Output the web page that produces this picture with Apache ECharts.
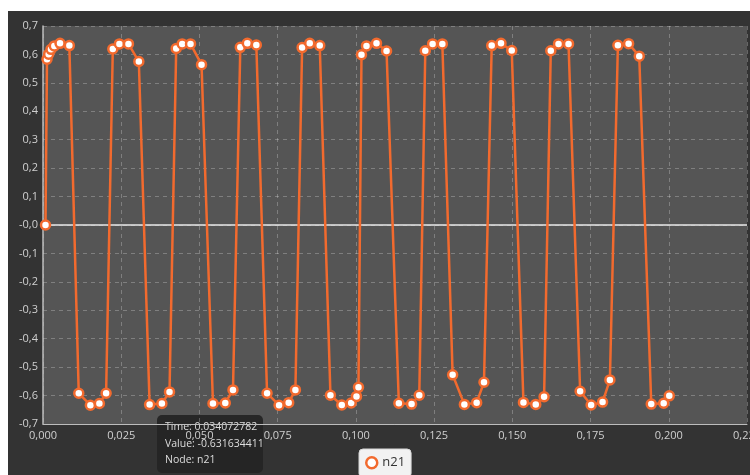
<!DOCTYPE html>
<html>
<head>
<meta charset="utf-8">
<script src="https://cdn.jsdelivr.net/npm/echarts@6/dist/echarts.min.js"></script>
<style>
html,body{margin:0;padding:0;background:#fff;}
#c{width:750px;height:475px;}
</style>
</head>
<body>
<div id="c"></div>
<script>
var seriesName = 'n21';
var times = [
  0.0008, 0.00128, 0.00182, 0.00256, 0.00362, 0.00544, 0.00842,
  0.01143, 0.01514, 0.01802, 0.02017,
  0.02231, 0.02442, 0.02731, 0.03063,
  0.034072782, 0.03800, 0.04043,
  0.04257, 0.04449, 0.04715, 0.05067,
  0.05432, 0.05826, 0.06072,
  0.06306, 0.06530, 0.06818,
  0.07161, 0.07545, 0.07852, 0.08067,
  0.08281, 0.08525, 0.08845,
  0.09187, 0.09549, 0.09849, 0.10019, 0.10083,
  0.10179, 0.10339, 0.10659, 0.10980,
  0.11373, 0.11780, 0.12026,
  0.12218, 0.12452, 0.12763,
  0.13092, 0.13467, 0.13860, 0.14094,
  0.14341, 0.14638, 0.14981,
  0.15355, 0.15749, 0.16015,
  0.16229, 0.16476, 0.16796,
  0.17167, 0.17519, 0.17884, 0.18118,
  0.18374, 0.18716, 0.19056,
  0.19440, 0.19837, 0.20016
];
var values = [
  0.0, 0.583, 0.601, 0.618, 0.630, 0.639, 0.631,
  -0.592, -0.634, -0.628, -0.592,
  0.619, 0.637, 0.637, 0.575,
  -0.631634411, -0.628, -0.587,
  0.621, 0.637, 0.637, 0.564,
  -0.628, -0.626, -0.580,
  0.625, 0.639, 0.633,
  -0.592, -0.634, -0.625, -0.580,
  0.624, 0.639, 0.631,
  -0.599, -0.633, -0.626, -0.603, -0.571,
  0.599, 0.630, 0.639, 0.612,
  -0.627, -0.630, -0.599,
  0.613, 0.637, 0.637,
  -0.527, -0.631, -0.625, -0.553,
  0.631, 0.639, 0.614,
  -0.624, -0.631, -0.604,
  0.613, 0.637, 0.637,
  -0.585, -0.633, -0.623, -0.545,
  0.632, 0.638, 0.594,
  -0.630, -0.627, -0.601
];
var tooltipLines = ['Time: 0.034072782', 'Value: -0.631634411', 'Node: n21'];

var data = times.map(function(t, i){ return [t, values[i]]; });
var orange = '#f26a2e';

var chart = echarts.init(document.getElementById('c'), null, {renderer:'canvas'});
chart.setOption({
  backgroundColor: '#ffffff',
  animation: false,
  textStyle: {fontFamily: 'Open Sans'},
  graphic: [
    {type:'rect', z:-10, silent:true, shape:{x:8, y:11, width:742, height:464}, style:{fill:'#333333'}},
    {type:'group', left:157, top:415, z:100, children:[
      {type:'rect', shape:{x:0, y:0, width:106, height:58, r:5}, style:{fill:'rgba(36,36,36,0.94)'}},
      {type:'text', x:8, y:7, style:{text:tooltipLines[0], fill:'#dddddd', font:'10.5px "Open Sans"'}},
      {type:'text', x:8, y:24, style:{text:tooltipLines[1], fill:'#dddddd', font:'10.5px "Open Sans"'}},
      {type:'text', x:8, y:40, style:{text:tooltipLines[2], fill:'#dddddd', font:'10.5px "Open Sans"'}}
    ]}
  ],
  legend: {
    show: true,
    left: 359, top: 449,
    data: [seriesName],
    backgroundColor: '#f2f2f2',
    borderColor: '#d8d8d8', borderWidth: 1, borderRadius: 4,
    padding: [7, 6, 8, 6],
    itemWidth: 11, itemHeight: 11, itemGap: 4,
    icon: 'circle',
    itemStyle: {color:'#ffffff', borderColor: orange, borderWidth: 2.5},
    textStyle: {color:'#333333', fontSize:13, fontFamily:'Open Sans', padding:[0,0,0,0]}
  },
  grid: {
    left: 43, right: 3, top: 26, bottom: 51,
    outerBoundsMode: 'none',
    containLabel: false,
    show: true, backgroundColor: '#555555', borderWidth: 0
  },
  xAxis: {
    type: 'value', min: 0, max: 0.225, interval: 0.025,
    axisLine: {show:true, onZero:false, lineStyle:{color:'#bdbdbd', width:1}},
    axisTick: {show:false},
    axisLabel: {color:'#d0d0d0', fontSize:11, margin:6, showMaxLabel:true, hideOverlap:false,
      formatter: function(v){ return v.toFixed(3).replace('.', ','); }},
    splitLine: {show:true, lineStyle:{color:'rgba(255,255,255,0.25)', type:[4,4], width:1}}
  },
  yAxis: {
    type: 'value', min: -0.7, max: 0.7, interval: 0.1,
    axisLine: {show:true, onZero:false, lineStyle:{color:'#bdbdbd', width:1.5}},
    axisTick: {show:false},
    axisLabel: {color:'#d0d0d0', fontSize:11, margin:5,
      formatter: function(v){ var r = Math.round(v*10)/10; if (r === 0) return '-0,0'; return r.toFixed(1).replace('.', ','); }},
    splitLine: {show:true, lineStyle:{color:'rgba(255,255,255,0.25)', type:[4,4], width:1}}
  },
  series: [{
    name: seriesName,
    type: 'line',
    data: data,
    symbol: 'circle',
    symbolSize: 9,
    showAllSymbol: true,
    lineStyle: {color: orange, width: 2.5},
    itemStyle: {color: '#ffffff', borderColor: orange, borderWidth: 2.5},
    z: 5,
    markLine: {
      silent: true, symbol: ['none','none'], label:{show:false},
      lineStyle: {color:'#e8e8e8', type:'solid', width:1.5},
      data: [{yAxis: 0}],
      z: 1
    }
  }]
});
</script>
</body>
</html>
